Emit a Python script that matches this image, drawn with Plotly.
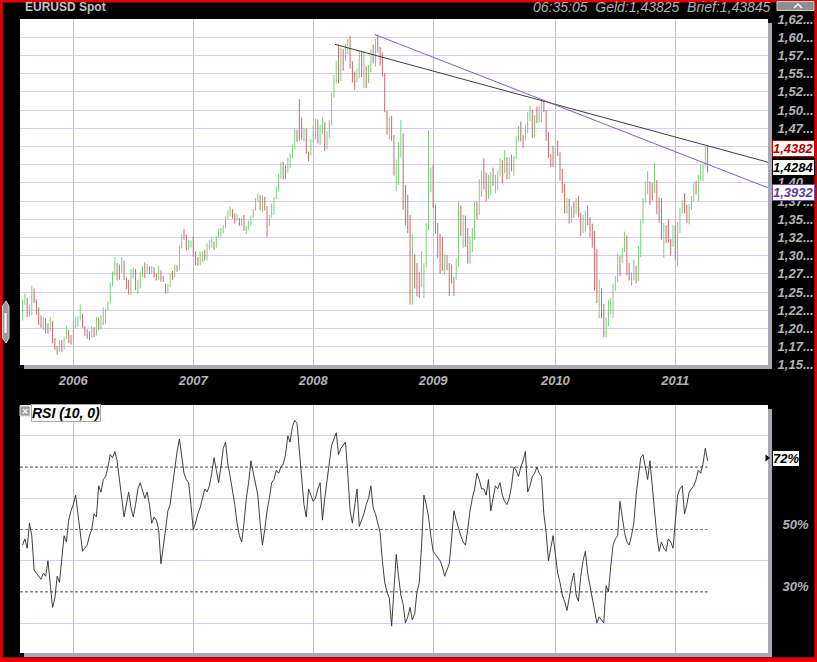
import plotly.graph_objects as go
import pandas as pd

# ------------------------------------------------------------------ data
first_week_end = "2005-08-05"          # weekly bars, stamped on Fridays
high = [
    1.2390, 1.2480, 1.2420, 1.2330, 1.2590, 1.2550, 1.2400, 1.2290, 1.2180, 1.2160,
    1.2140, 1.2070, 1.2160, 1.2100, 1.1870, 1.1760, 1.1840, 1.1840, 1.1890, 1.2040,
    1.1980, 1.1910, 1.2110, 1.2150, 1.2170, 1.2330, 1.2200, 1.2030, 1.1990, 1.1960,
    1.2040, 1.2020, 1.2160, 1.2150, 1.2180, 1.2290, 1.2270, 1.2370, 1.2630, 1.2780,
    1.2980, 1.2900, 1.2880, 1.2980, 1.2930, 1.2700, 1.2670, 1.2820, 1.2840, 1.2820,
    1.2670, 1.2780, 1.2860, 1.2910, 1.2890, 1.2850, 1.2860, 1.2840, 1.2760, 1.2860,
    1.2800, 1.2720, 1.2620, 1.2610, 1.2760, 1.2790, 1.2880, 1.2870, 1.3130, 1.3300,
    1.3370, 1.3290, 1.3220, 1.3210, 1.3270, 1.3060, 1.2980, 1.3050, 1.3060, 1.3080,
    1.3170, 1.3210, 1.3260, 1.3190, 1.3270, 1.3370, 1.3380, 1.3420, 1.3540, 1.3620,
    1.3680, 1.3640, 1.3580, 1.3580, 1.3520, 1.3520, 1.3560, 1.3410, 1.3480, 1.3550,
    1.3640, 1.3790, 1.3850, 1.3830, 1.3830, 1.3810, 1.3680, 1.3560, 1.3720, 1.3800,
    1.3950, 1.4120, 1.4280, 1.4290, 1.4240, 1.4350, 1.4400, 1.4530, 1.4750, 1.4730,
    1.5150, 1.4900, 1.4760, 1.4750, 1.4430, 1.4600, 1.4790, 1.4880, 1.4870, 1.4800,
    1.4900, 1.4830, 1.4710, 1.4860, 1.5240, 1.5480, 1.5680, 1.5905, 1.5860, 1.5840,
    1.5910, 1.5980, 1.6020, 1.5670, 1.5530, 1.5570, 1.5820, 1.5800, 1.5800, 1.5600,
    1.5620, 1.5840, 1.5900, 1.5980, 1.6040, 1.5870, 1.5790, 1.5510, 1.4990, 1.4900,
    1.4920, 1.4660, 1.4320, 1.4560, 1.4860, 1.4680, 1.3970, 1.3840, 1.3560, 1.3300,
    1.3020, 1.2900, 1.2780, 1.3060, 1.2900, 1.3450, 1.4720, 1.4210, 1.4250, 1.3700,
    1.3450, 1.3300, 1.3260, 1.3020, 1.3010, 1.2900, 1.2880, 1.2710, 1.2960, 1.3740,
    1.3690, 1.3560, 1.3550, 1.3380, 1.3270, 1.3380, 1.3740, 1.3740, 1.4050, 1.4170,
    1.4340, 1.4140, 1.4110, 1.4150, 1.4210, 1.4110, 1.4170, 1.4340, 1.4310, 1.4450,
    1.4350, 1.4350, 1.4390, 1.4370, 1.4640, 1.4780, 1.4840, 1.4660, 1.4800, 1.4970,
    1.5060, 1.5000, 1.4930, 1.5050, 1.5060, 1.5145, 1.5140, 1.5000, 1.4700, 1.4400,
    1.4510, 1.4480, 1.4580, 1.4420, 1.4190, 1.3990, 1.3800, 1.3780, 1.3680, 1.3740,
    1.3790, 1.3820, 1.3590, 1.3560, 1.3620, 1.3690, 1.3530, 1.3440, 1.3340, 1.3090,
    1.2670, 1.2550, 1.2340, 1.2150, 1.2400, 1.2420, 1.2620, 1.2720, 1.3030, 1.3000,
    1.3110, 1.3330, 1.3280, 1.2900, 1.2770, 1.2950, 1.2860, 1.3130, 1.3490, 1.3790,
    1.4020, 1.4160, 1.4020, 1.4000, 1.4280, 1.4040, 1.3800, 1.3790, 1.3450, 1.3420,
    1.3500, 1.3230, 1.3420, 1.3410, 1.3460, 1.3650, 1.3760, 1.3860, 1.3700, 1.3710,
    1.3820, 1.4000, 1.4030, 1.4110, 1.4250, 1.4250, 1.4499, 1.4512,
]
low = [
    1.2110, 1.2330, 1.2160, 1.2170, 1.2180, 1.2350, 1.2190, 1.2050, 1.2010, 1.1980,
    1.1930, 1.1930, 1.1960, 1.1800, 1.1710, 1.1640, 1.1680, 1.1680, 1.1710, 1.1860,
    1.1800, 1.1780, 1.1800, 1.2000, 1.2020, 1.2110, 1.2010, 1.1900, 1.1860, 1.1840,
    1.1870, 1.1880, 1.1900, 1.1980, 1.1990, 1.2050, 1.2060, 1.2240, 1.2340, 1.2580,
    1.2720, 1.2660, 1.2670, 1.2760, 1.2670, 1.2540, 1.2470, 1.2460, 1.2690, 1.2530,
    1.2470, 1.2550, 1.2710, 1.2690, 1.2760, 1.2750, 1.2750, 1.2700, 1.2660, 1.2670,
    1.2640, 1.2640, 1.2480, 1.2480, 1.2570, 1.2670, 1.2700, 1.2780, 1.2800, 1.3100,
    1.3220, 1.3070, 1.3080, 1.3110, 1.2985, 1.2870, 1.2860, 1.2870, 1.2910, 1.2930,
    1.2940, 1.3080, 1.3110, 1.3080, 1.3110, 1.3240, 1.3250, 1.3310, 1.3380, 1.3500,
    1.3540, 1.3510, 1.3440, 1.3480, 1.3410, 1.3410, 1.3340, 1.3300, 1.3360, 1.3410,
    1.3520, 1.3620, 1.3740, 1.3620, 1.3600, 1.3620, 1.3260, 1.3410, 1.3520, 1.3560,
    1.3780, 1.3880, 1.4050, 1.4050, 1.4050, 1.4140, 1.4200, 1.4340, 1.4460, 1.4560,
    1.4580, 1.4590, 1.4570, 1.4400, 1.4300, 1.4380, 1.4560, 1.4600, 1.4540, 1.4520,
    1.4670, 1.4440, 1.4460, 1.4620, 1.4790, 1.5170, 1.5360, 1.5370, 1.5400, 1.5540,
    1.5670, 1.5770, 1.5570, 1.5380, 1.5280, 1.5380, 1.5440, 1.5450, 1.5300, 1.5300,
    1.5370, 1.5520, 1.5640, 1.5600, 1.5790, 1.5610, 1.5460, 1.4970, 1.4660, 1.4600,
    1.4580, 1.4100, 1.3880, 1.3970, 1.4350, 1.3630, 1.3420, 1.3310, 1.2330, 1.2330,
    1.2550, 1.2440, 1.2420, 1.2570, 1.2420, 1.2840, 1.3350, 1.3870, 1.3660, 1.3300,
    1.2970, 1.2750, 1.2790, 1.2740, 1.2800, 1.2450, 1.2620, 1.2450, 1.2670, 1.2850,
    1.3270, 1.3110, 1.3120, 1.2890, 1.2890, 1.3050, 1.3220, 1.3500, 1.3560, 1.3810,
    1.3910, 1.3750, 1.3780, 1.3830, 1.3960, 1.3860, 1.3900, 1.4090, 1.3990, 1.4130,
    1.4050, 1.4050, 1.4160, 1.4100, 1.4330, 1.4570, 1.4570, 1.4480, 1.4580, 1.4680,
    1.4850, 1.4620, 1.4620, 1.4820, 1.4830, 1.4830, 1.4970, 1.4580, 1.4340, 1.4220,
    1.4220, 1.4240, 1.4370, 1.4030, 1.3860, 1.3580, 1.3580, 1.3440, 1.3450, 1.3520,
    1.3570, 1.3530, 1.3270, 1.3310, 1.3320, 1.3420, 1.3250, 1.3110, 1.2520, 1.2350,
    1.2140, 1.2140, 1.1880, 1.1880, 1.2030, 1.2200, 1.2150, 1.2520, 1.2640, 1.2720,
    1.2900, 1.3050, 1.2730, 1.2660, 1.2590, 1.2660, 1.2620, 1.2650, 1.2980, 1.3440,
    1.3730, 1.3840, 1.3700, 1.3760, 1.3860, 1.3570, 1.3450, 1.3220, 1.2970, 1.3170,
    1.3180, 1.3000, 1.3120, 1.2940, 1.2860, 1.3310, 1.3580, 1.3580, 1.3450, 1.3430,
    1.3630, 1.3750, 1.3840, 1.3750, 1.4030, 1.4020, 1.4230, 1.4144,
]
close = [
    1.2370, 1.2420, 1.2230, 1.2290, 1.2500, 1.2410, 1.2240, 1.2080, 1.2030, 1.2130,
    1.2040, 1.1990, 1.2100, 1.1800, 1.1720, 1.1710, 1.1800, 1.1730, 1.1870, 1.1970,
    1.1870, 1.1840, 1.2090, 1.2110, 1.2140, 1.2150, 1.2030, 1.1920, 1.1890, 1.1880,
    1.2000, 1.1910, 1.2150, 1.2030, 1.2110, 1.2140, 1.2250, 1.2350, 1.2620, 1.2740,
    1.2900, 1.2820, 1.2730, 1.2920, 1.2680, 1.2610, 1.2510, 1.2790, 1.2800, 1.2570,
    1.2620, 1.2760, 1.2840, 1.2780, 1.2830, 1.2780, 1.2820, 1.2740, 1.2680, 1.2800,
    1.2690, 1.2670, 1.2530, 1.2590, 1.2730, 1.2710, 1.2850, 1.2810, 1.3100, 1.3290,
    1.3260, 1.3110, 1.3150, 1.3200, 1.3000, 1.2960, 1.2940, 1.2950, 1.3010, 1.2970,
    1.3140, 1.3160, 1.3190, 1.3110, 1.3260, 1.3270, 1.3360, 1.3390, 1.3500, 1.3590,
    1.3630, 1.3520, 1.3500, 1.3520, 1.3450, 1.3500, 1.3380, 1.3390, 1.3460, 1.3540,
    1.3630, 1.3780, 1.3830, 1.3640, 1.3800, 1.3660, 1.3430, 1.3550, 1.3640, 1.3790,
    1.3920, 1.4100, 1.4270, 1.4210, 1.4180, 1.4310, 1.4370, 1.4500, 1.4650, 1.4640,
    1.4620, 1.4600, 1.4660, 1.4420, 1.4400, 1.4590, 1.4760, 1.4820, 1.4610, 1.4750,
    1.4820, 1.4510, 1.4670, 1.4810, 1.5190, 1.5370, 1.5650, 1.5440, 1.5800, 1.5780,
    1.5800, 1.5950, 1.5630, 1.5470, 1.5410, 1.5500, 1.5750, 1.5550, 1.5740, 1.5410,
    1.5590, 1.5800, 1.5690, 1.5950, 1.5860, 1.5700, 1.5480, 1.4990, 1.4680, 1.4830,
    1.4670, 1.4210, 1.4220, 1.4500, 1.4610, 1.3790, 1.3450, 1.3400, 1.2500, 1.2810,
    1.2730, 1.2580, 1.2570, 1.2690, 1.2760, 1.3350, 1.3880, 1.4160, 1.3970, 1.3430,
    1.3190, 1.2940, 1.2800, 1.2900, 1.2890, 1.2860, 1.2670, 1.2650, 1.2910, 1.3580,
    1.3280, 1.3480, 1.3180, 1.3030, 1.3260, 1.3270, 1.3660, 1.3590, 1.4000, 1.4150,
    1.3970, 1.3960, 1.4000, 1.4090, 1.3980, 1.4020, 1.4130, 1.4260, 1.4170, 1.4200,
    1.4080, 1.4340, 1.4310, 1.4340, 1.4610, 1.4700, 1.4600, 1.4580, 1.4700, 1.4920,
    1.5000, 1.4720, 1.4910, 1.4890, 1.4900, 1.4990, 1.4980, 1.4610, 1.4350, 1.4340,
    1.4320, 1.4410, 1.4380, 1.4150, 1.3870, 1.3620, 1.3630, 1.3610, 1.3640, 1.3620,
    1.3770, 1.3540, 1.3390, 1.3480, 1.3580, 1.3480, 1.3330, 1.3200, 1.2750, 1.2360,
    1.2570, 1.2260, 1.1970, 1.2110, 1.2380, 1.2390, 1.2560, 1.2640, 1.2950, 1.2930,
    1.3080, 1.3290, 1.2750, 1.2670, 1.2760, 1.2890, 1.2700, 1.3050, 1.3480, 1.3780,
    1.3960, 1.3970, 1.3950, 1.3940, 1.4030, 1.3680, 1.3670, 1.3240, 1.3410, 1.3290,
    1.3210, 1.3130, 1.3380, 1.2950, 1.3380, 1.3610, 1.3700, 1.3590, 1.3540, 1.3700,
    1.3750, 1.3980, 1.3910, 1.4050, 1.4130, 1.4240, 1.4480, 1.4382,
]
first_open = 1.2140
rsi = [
    45, 47, 44, 52, 48, 37, 36, 35, 34, 36,
    35, 40, 33, 25, 28, 35, 33, 40, 48, 46,
    53, 56, 58, 61, 55, 50, 43, 44, 45, 48,
    50, 55, 54, 64, 62, 66, 67, 70, 74, 73,
    75, 72, 65, 60, 54, 58, 62, 57, 54, 58,
    63, 65, 62, 60, 62, 58, 52, 54, 53, 50,
    39, 44, 50, 56, 58, 64, 70, 75, 79, 74,
    68, 66, 65, 58, 50, 52, 55, 57, 60, 63,
    62, 64, 68, 73, 69, 65, 70, 76, 78, 71,
    67, 63, 58, 52, 48, 46, 52, 60, 65, 72,
    68, 64, 61, 52, 45, 50, 56, 60, 65, 66,
    69, 68, 70, 71, 74, 80, 78, 83, 85, 84,
    76, 67, 58, 54, 63, 61, 59, 60, 63, 65,
    53, 60, 66, 72, 77, 79, 81, 74, 76, 77,
    78, 68, 56, 52, 58, 63, 51, 53, 55, 58,
    60, 64, 57, 55, 52, 49, 40, 33, 30, 28,
    19, 30, 42, 35, 29, 26, 20, 22, 25, 21,
    23, 30, 33, 45, 61, 58, 54, 48, 43, 42,
    41, 40, 38, 35, 37, 39, 47, 56, 53, 50,
    48, 46, 45, 50, 56, 60, 63, 68, 66, 63,
    63, 61, 66, 56, 60, 64, 63, 65, 61, 59,
    58, 60, 64, 70, 69, 67, 70, 72, 75, 62,
    64, 67, 68, 70, 68, 67, 55, 49, 40, 44,
    48, 42, 36, 33, 29, 27, 24, 28, 33, 36,
    29, 27, 35, 40, 43, 36, 32, 27, 24, 20,
    22, 21, 20, 32, 30, 38, 45, 47, 48, 59,
    54, 49, 46, 45, 48, 52, 61, 67, 73, 74,
    70, 66, 72, 64, 56, 48, 43, 46, 44, 43,
    47, 46, 44, 52, 61, 63, 64, 55, 58, 62,
    63, 64, 66, 69, 68, 71, 76, 72,
]

year_lines = ["2006-01-06", "2007-01-05", "2008-01-04", "2009-01-02", "2010-01-08", "2011-01-07"]
year_labels = ["2006", "2007", "2008", "2009", "2010", "2011"]
price_ticks = [1.150, 1.175, 1.200, 1.225, 1.250, 1.275, 1.300, 1.325, 1.350, 1.375,
               1.400, 1.425, 1.450, 1.475, 1.500, 1.525, 1.550, 1.575, 1.600, 1.625]
hidden_price_labels = [1.425, 1.450]      # covered by the value boxes in the original
rsi_label_ticks = [30, 50]
rsi_grid = [20, 40, 60, 80]
rsi_levels = [30, 50, 70]
rsi_level_colors = ["#474747", "#7a7a7a", "#474747"]

black_trend_x = ["2008-03-10", "2011-10-15 07:00"]
black_trend_y = [1.5903, 1.4284]
purple_trend_x = ["2008-07-08", "2011-10-15 07:00"]
purple_trend_y = [1.6040, 1.3932]

header_time = "06:35:05"
bid = "1,43825"
ask = "1,43845"

x_range = ["2005-07-28 05:00", "2011-10-15 07:00"]
price_range = [1.1499, 1.6251]
rsi_range = [10.4, 89.9]

# ------------------------------------------------------------------ build
dates = pd.date_range(first_week_end, periods=len(close), freq="7D")
opens = [first_open] + close[:-1]

W, H = 817, 662
L, R, T, B = 20, 768, 19, 653


def fx(x):
    return (x - L) / (R - L)


def fy(y):
    return (B - y) / (B - T)


FONT = "Liberation Sans, Arial, sans-serif"
AXIS_GREY = "#b4b4b4"
HGRID = "#dccbf0"
VGRID = "#cdb8e8"
UP = "#7ccf7c"
DOWN = "#c86a6a"
SHADOW = "#a9a9b3"
RED = "#e00000"

lbl_font = dict(family=FONT, size=13, color=AXIS_GREY, weight="bold", style="italic")

fig = go.Figure()

fig.add_trace(go.Ohlc(
    x=dates, open=opens, high=high, low=low, close=close,
    increasing=dict(line=dict(color=UP, width=1)),
    decreasing=dict(line=dict(color=DOWN, width=1)),
    tickwidth=0, xaxis="x", yaxis="y", hoverinfo="skip", showlegend=False,
))
fig.add_trace(go.Scatter(x=black_trend_x, y=black_trend_y, mode="lines",
                         line=dict(color="#3c3c3c", width=1),
                         xaxis="x", yaxis="y", hoverinfo="skip", showlegend=False))
fig.add_trace(go.Scatter(x=purple_trend_x, y=purple_trend_y, mode="lines",
                         line=dict(color="#7a62b8", width=1),
                         xaxis="x", yaxis="y", hoverinfo="skip", showlegend=False))

for lvl, col in zip(rsi_levels, rsi_level_colors):
    fig.add_trace(go.Scatter(x=[x_range[0], dates[-1]], y=[lvl, lvl], mode="lines",
                             line=dict(color=col, width=1, dash="3px,2px"),
                             xaxis="x2", yaxis="y2", hoverinfo="skip", showlegend=False))
fig.add_trace(go.Scatter(x=dates, y=rsi, mode="lines",
                         line=dict(color="#2a2a2a", width=0.9),
                         xaxis="x2", yaxis="y2", hoverinfo="skip", showlegend=False))

main_bottom = fy(365)
rsi_top = fy(405)

xaxis_common = dict(
    type="date", range=x_range, tickmode="array", tickvals=year_lines,
    showgrid=True, gridcolor=VGRID, gridwidth=1, zeroline=False, showline=False,
    fixedrange=True, automargin=False,
)

price_text = []
for v in price_ticks:
    if v in hidden_price_labels:
        price_text.append("")
    else:
        price_text.append((f"{v:.3f}".replace(".", ","))[:4] + "...")

fig.update_layout(
    width=W, height=H,
    margin=dict(l=L, r=W - R, t=T, b=H - B, pad=0, autoexpand=False),
    paper_bgcolor="black", plot_bgcolor="white",
    showlegend=False,
    xaxis=dict(**xaxis_common, domain=[0, 1], anchor="y", ticktext=year_labels,
               ticks="outside", ticklen=3, tickcolor="rgba(0,0,0,0)", tickfont=lbl_font,
               rangeslider=dict(visible=False)),
    yaxis=dict(domain=[main_bottom, 1], anchor="x", side="right", range=price_range,
               tickmode="array", tickvals=price_ticks, ticktext=price_text,
               showgrid=True, gridcolor=HGRID, gridwidth=1, zeroline=False,
               ticks="outside", ticklen=6, tickcolor="rgba(0,0,0,0)", tickfont=lbl_font,
               fixedrange=True, automargin=False),
    xaxis2=dict(**xaxis_common, domain=[0, 1], anchor="y2", matches="x",
                showticklabels=False, ticks=""),
    yaxis2=dict(domain=[0, rsi_top], anchor="x2", side="right", range=rsi_range,
                tickmode="array", tickvals=rsi_label_ticks,
                ticktext=[f"{v}%" for v in rsi_label_ticks],
                showgrid=False, zeroline=False,
                minor=dict(tickmode="array", tickvals=rsi_grid, showgrid=True,
                           gridcolor=HGRID, gridwidth=1, ticks=""),
                ticks="outside", ticklen=11, tickcolor="rgba(0,0,0,0)", tickfont=lbl_font,
                ticklabelshift=-5, fixedrange=True, automargin=False),
)

shapes = []


def rect(x0, y0, x1, y1, fill, line_color=None, line_width=0, layer="above"):
    shapes.append(dict(type="rect", xref="paper", yref="paper",
                       x0=fx(x0), x1=fx(x1), y0=fy(y1), y1=fy(y0),
                       fillcolor=fill, layer=layer,
                       line=dict(color=line_color or fill, width=line_width)))


# drop shadows of the two panels
rect(768, 23, 772, 369, SHADOW, layer="below")
rect(24, 365, 772, 369, SHADOW, layer="below")
rect(768, 409, 772, 657, SHADOW, layer="below")
rect(24, 653, 772, 657, SHADOW, layer="below")

# red window frame
rect(0, 0, 817, 2.5, RED)
rect(0, 0, 2.8, 662, RED)
rect(814.3, 0, 817, 662, RED)
rect(0, 657.3, 817, 662, RED)

# top-right collapse button
rect(777, 1.5, 814, 10.5, "#8e8e8e", "#cfcfcf", 1)
shapes.append(dict(type="path", xref="paper", yref="paper",
                   path=f"M {fx(794)},{fy(8)} L {fx(798)},{fy(4)} L {fx(802)},{fy(8)}",
                   line=dict(color="white", width=1.5)))

# left side handle
shapes.append(dict(type="path", xref="paper", yref="paper",
                   path=(f"M {fx(2.5)},{fy(306)} L {fx(6)},{fy(301)} L {fx(9)},{fy(306)} "
                         f"L {fx(9)},{fy(338)} L {fx(6)},{fy(343)} L {fx(2.5)},{fy(338)} Z"),
                   fillcolor="#9a9a9a", line=dict(color="#d0d0d0", width=1)))
rect(4.5, 313, 6.5, 333, "white")

# close icon of the RSI pane
rect(20, 406, 30, 416, "#9c9c9c", "#dddddd", 1)

# triangle pointing to the RSI value box
shapes.append(dict(type="path", xref="paper", yref="paper",
                   path=f"M {fx(765.5)},{fy(454.5)} L {fx(770)},{fy(458)} L {fx(765.5)},{fy(461.5)} Z",
                   fillcolor="black", line=dict(color="black", width=0)))

fig.update_layout(shapes=shapes)

box_font = dict(family=FONT, size=13, weight="bold", style="italic")


def fmt(v):
    return f"{v:.4f}".replace(".", ",")


annotations = [
    dict(text="EURUSD Spot", x=fx(23), y=fy(7.5), xanchor="left", yanchor="middle",
         font=dict(family=FONT, size=12, color="#c4c4c4", weight="bold")),
    dict(text=f"{header_time}  Geld:{bid}  Brief:{ask}", x=fx(773), y=fy(7),
         xanchor="right", yanchor="middle",
         font=dict(family=FONT, size=14, color="#b2b2b2", style="italic")),
    dict(text=fmt(close[-1]), x=fx(771.5), y=fy(149), xanchor="left", yanchor="middle",
         bgcolor="white", bordercolor="#c00000", borderwidth=1, borderpad=0,
         font=dict(**box_font, color="#b00000")),
    dict(text=fmt(black_trend_y[-1]), x=fx(771.5), y=fy(167.5), xanchor="left", yanchor="middle",
         bgcolor="white", bordercolor="black", borderwidth=1, borderpad=0,
         font=dict(**box_font, color="black")),
    dict(text=fmt(purple_trend_y[-1]), x=fx(771.5), y=fy(192.5), xanchor="left", yanchor="middle",
         bgcolor="white", bordercolor="#6a50b0", borderwidth=1, borderpad=0,
         font=dict(**box_font, color="#5a3fa0")),
    dict(text=f"{rsi[-1]:.0f}%", x=fx(771.5), y=fy(458), xanchor="left", yanchor="middle",
         bgcolor="white", bordercolor="black", borderwidth=1, borderpad=0,
         font=dict(**box_font, color="black")),
    dict(text="RSI (10, 0)", x=fx(31), y=fy(413), xanchor="left", yanchor="middle",
         bgcolor="white", bordercolor="#a8a8a8", borderwidth=1, borderpad=0,
         font=dict(family=FONT, size=14, color="black", weight="bold", style="italic")),
    dict(text="×", x=fx(25), y=fy(411), xanchor="center", yanchor="middle",
         font=dict(family=FONT, size=11, color="white", weight="bold")),
]
for a in annotations:
    a.update(xref="paper", yref="paper", showarrow=False)
fig.update_layout(annotations=annotations)

fig.write_html(
    "out.html",
    config={"displayModeBar": False},
    post_script="document.body.style.margin='0';document.body.style.overflow='hidden';"
                "document.body.style.background='black';",
)
